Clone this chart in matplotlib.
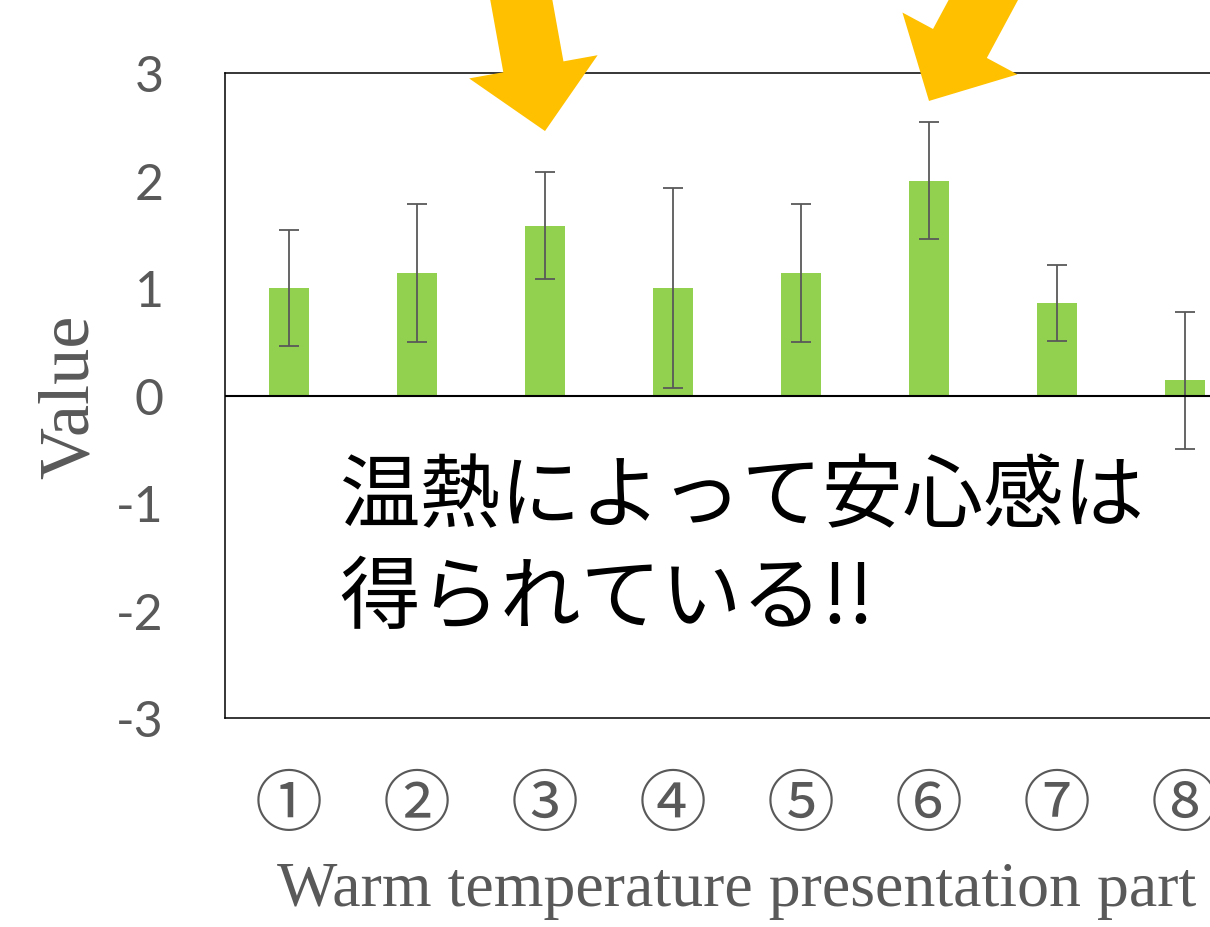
import matplotlib
matplotlib.use("Agg")
import matplotlib.pyplot as plt

# Mean score per presentation part, with error bar half-lengths
categories = ["①", "②", "③", "④", "⑤", "⑥", "⑦", "⑧"]
means = [1.00, 1.14, 1.58, 1.00, 1.14, 2.00, 0.86, 0.14]
errors = [0.54, 0.64, 0.50, 0.93, 0.64, 0.54, 0.35, 0.64]
yticks = [-3, -2, -1, 0, 1, 2, 3]

# Highlighted parts and how far above each error bar the arrow tip sits
highlight_parts = [2, 5]
tip_gaps = [0.38, 0.20]

BAR = "#92D050"
GRAY = "#595959"
ARROW = "#FFC000"

fig = plt.figure(figsize=(12.10, 9.28), dpi=100)
ax = fig.add_axes([225 / 1210, 209 / 928, 1024 / 1210, 645 / 928])

x = list(range(len(categories)))
ax.bar(x, means, width=0.32, color=BAR, zorder=2)
ax.errorbar(x, means, yerr=errors, fmt="none", ecolor=GRAY, elinewidth=1.3,
            capsize=7, capthick=1.3, zorder=3)
ax.axhline(0, color="black", lw=1.5, zorder=4)

ax.set_xlim(-0.5, len(categories) - 0.5)
ax.set_ylim(-3, 3)
ax.set_yticks(yticks)
ax.set_yticklabels([str(v) for v in yticks], family="Lato", fontsize=36, color=GRAY)
ax.set_xticks(x)
ax.set_xticklabels(categories, family=["Noto Sans CJK JP", "DejaVu Sans"],
                   fontsize=49, color=GRAY)
ax.tick_params(axis="y", length=0, pad=44)
ax.tick_params(axis="x", length=0, pad=38)
for sp in ax.spines.values():
    sp.set_color("black")
    sp.set_linewidth(1.1)

ax.set_ylabel("Value", family="Liberation Serif", fontsize=52, color=GRAY)
ax.yaxis.set_label_coords(-0.151, 0.5)
ax.yaxis.label.set_verticalalignment("center")
ax.set_xlabel("Warm temperature presentation part", family="Liberation Serif",
              fontsize=46, color=GRAY)
ax.xaxis.set_label_coords(0.5, -0.222)

ax.text(0.112, 0.407, "温熱によって安心感は\n得られている!!", transform=ax.transAxes,
        family=["Noto Sans CJK JP", "DejaVu Sans"], fontsize=58, color="black",
        ha="left", va="top", linespacing=1.30, zorder=5)

# Block arrows pointing at the highlighted bars
tails = [(-32, 177), (85, 158)]
for part, gap, tail in zip(highlight_parts, tip_gaps, tails):
    tip_y = means[part] + errors[part] + gap
    ax.annotate("", xy=(part, tip_y), xytext=tail, textcoords="offset points",
                arrowprops=dict(arrowstyle="simple,head_length=47,head_width=94,tail_width=44",
                                mutation_scale=1, fc=ARROW, ec="none", lw=0,
                                shrinkA=0, shrinkB=0),
                zorder=6, annotation_clip=False)

fig.savefig("out.png", dpi=100)
